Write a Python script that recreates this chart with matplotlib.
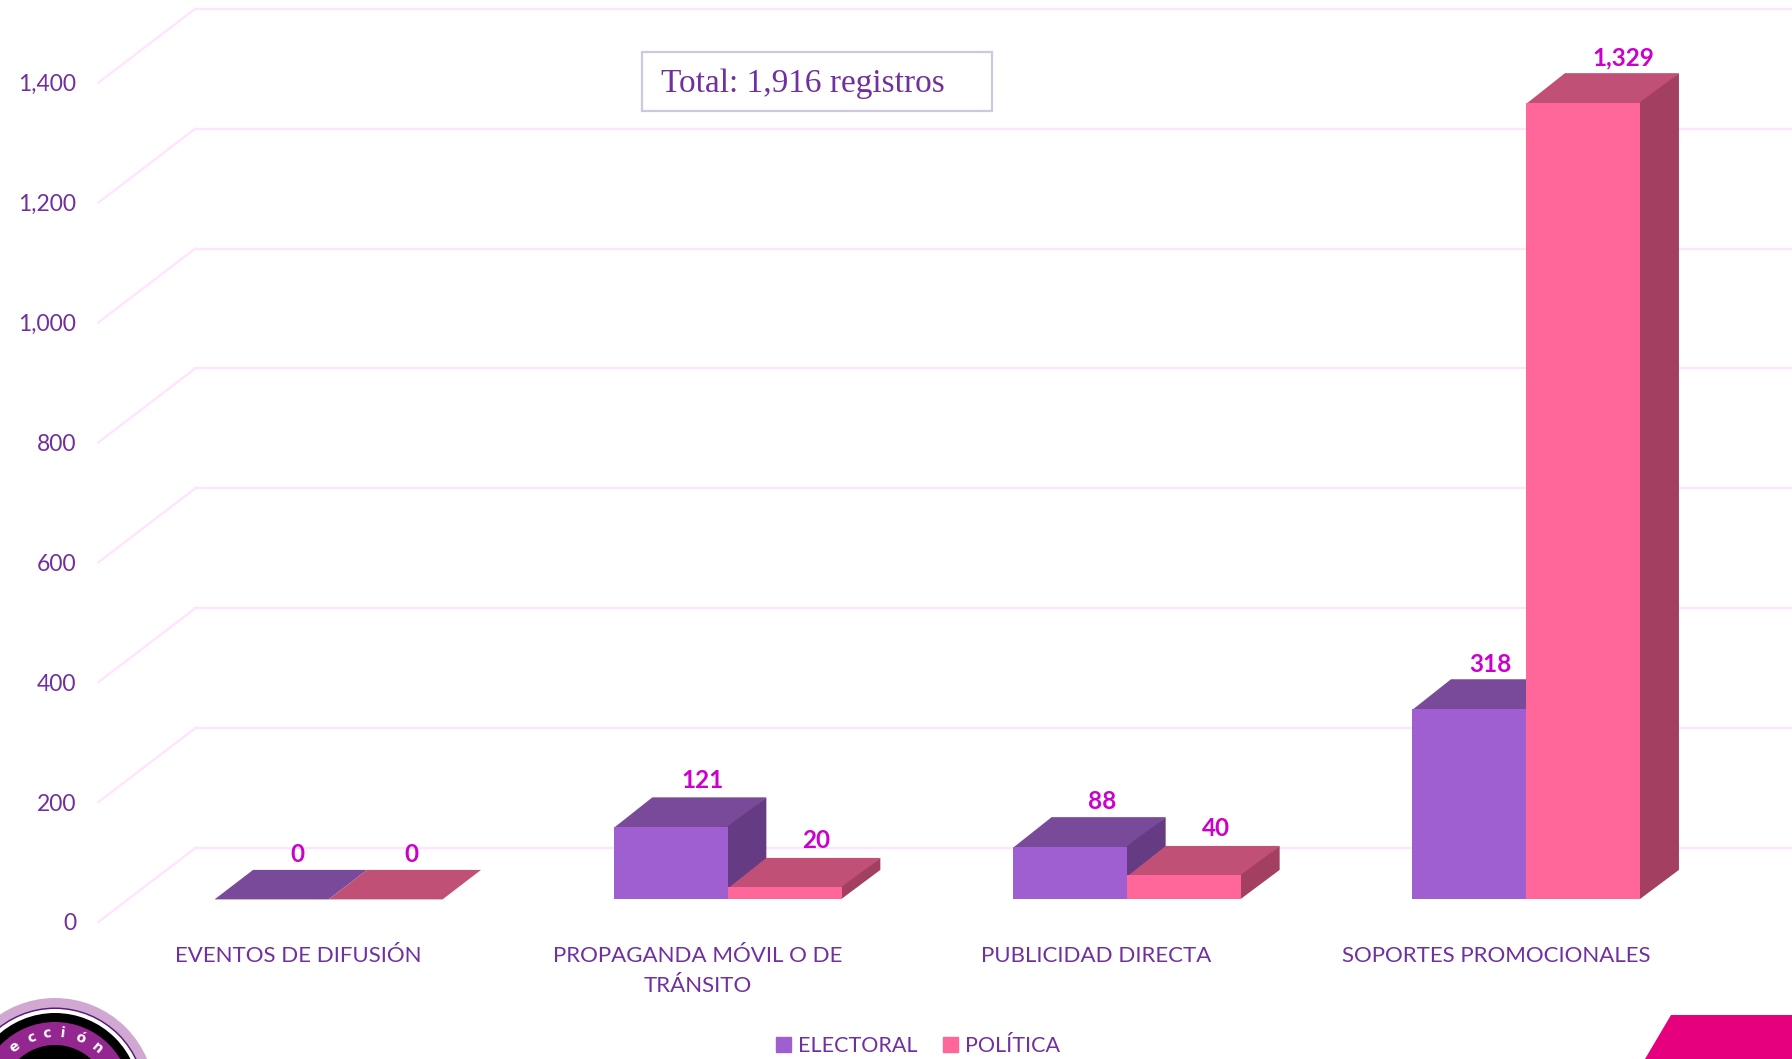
import matplotlib
matplotlib.use("Agg")
import matplotlib.pyplot as plt
from matplotlib.patches import Circle, Polygon, Rectangle
from matplotlib.transforms import Affine2D, IdentityTransform
from matplotlib.ticker import FuncFormatter
import numpy as np

categories = [
    "EVENTOS DE DIFUSIÓN",
    "PROPAGANDA MÓVIL O DE\nTRÁNSITO",
    "PUBLICIDAD DIRECTA",
    "SOPORTES PROMOCIONALES",
]
electoral = [0, 121, 88, 318]
politica = [0, 20, 40, 1329]
series_names = ["ELECTORAL", "POLÍTICA"]
y_ticks = [0, 200, 400, 600, 800, 1000, 1200, 1400]
total_label = "Total: 1,916 registros"

W, H = 1792, 1059
TEXT = "#7030A0"
LABEL = "#CC00CC"
GRID = "#FFE3FF"
# front, top, side
PURPLE = ("#9F5FD0", "#7A4A9A", "#653C84")
PINK = ("#FF6699", "#C05075", "#A33F60")

WALL = (97, 74)  # floor depth in pixels
BAR_OFF = (30.5, 22.6)
BAR_DEPTH = (38.5, 29.5)
BAR_W = 0.2855

plt.rcParams["font.family"] = ["Lato", "DejaVu Sans"]

fig = plt.figure(figsize=(W / 100, H / 100), dpi=100, facecolor="white")
ax = fig.add_axes([98.4 / W, (H - 922) / H, 1597.2 / W, 839.3 / H])
ax.set_xlim(-0.5, 3.5)
ax.set_ylim(0, 1400)
ax.patch.set_visible(False)
for s in ax.spines.values():
    s.set_visible(False)

ax.set_yticks(y_ticks)
ax.yaxis.set_major_formatter(FuncFormatter(lambda v, _: f"{int(v):,}"))
ax.tick_params(axis="y", length=0, pad=16, labelsize=16.5, labelcolor=TEXT)
for lab in ax.get_yticklabels():
    lab.set_verticalalignment("center_baseline")
ax.set_xticks(range(len(categories)))
ax.set_xticklabels(categories, linespacing=1.65)
ax.tick_params(axis="x", length=0, pad=17, labelsize=16, labelcolor=TEXT)
for lab in ax.get_xticklabels():
    lab.set_verticalalignment("top")

wall = ax.transData + Affine2D().translate(*WALL)
bar_tr = ax.transData + Affine2D().translate(*BAR_OFF)
pixel = IdentityTransform()

# floor/side lines and back wall grid
for v in y_ticks:
    x0, y0 = ax.transData.transform((-0.5, v))
    ax.plot([x0, x0 + WALL[0]], [y0, y0 + WALL[1]], color=GRID, lw=1.6,
            transform=pixel, clip_on=False, zorder=1)
    ax.plot([-0.5, 3.5], [v, v], color=GRID, lw=1.6, transform=wall,
            clip_on=False, zorder=1)


def draw_bar(x, value, colors, z, nudge=(0, 0)):
    # front through the axes, the 3d top and side from its pixel corners
    ax.bar(x, value, BAR_W, align="edge", color=colors[0], transform=bar_tr,
           clip_on=False, zorder=z + 0.5)
    x0, y0 = bar_tr.transform((x, 0))
    x1, y1 = bar_tr.transform((x + BAR_W, value))
    dx, dy = BAR_DEPTH
    # top and side run 1px under the front so no seam shows
    if value > 0:
        top_low, side_left = y1 - 1, x1 - 1
    else:
        top_low, side_left = y1, x1
    ax.add_patch(Polygon([(x0, top_low), (x1, top_low), (x1 + dx, y1 + dy), (x0 + dx, y1 + dy)],
                         closed=True, fc=colors[1], ec="none", transform=pixel,
                         clip_on=False, zorder=z))
    ax.add_patch(Polygon([(side_left, y0), (side_left, y1), (x1 + dx, y1 + dy), (x1 + dx, y0 + dy)],
                         closed=True, fc=colors[2], ec="none", transform=pixel,
                         clip_on=False, zorder=z))
    ax.text((x0 + x1) / 2 + dx - 7 + nudge[0], y1 + dy + 4 + nudge[1], f"{value:,}",
            transform=pixel, ha="center", va="bottom", fontsize=17.5, fontweight="bold",
            color=LABEL, zorder=10)


# the reference's own labels are not placed quite evenly
electoral_nudge = [(-6, 0), (0, 1), (0, 0), (-11, -1)]
politica_nudge = [(-6, 0), (0, 2), (0, 2), (8, 0)]

for i in range(len(categories)):
    draw_bar(i - BAR_W, electoral[i], PURPLE, 3, electoral_nudge[i])
    draw_bar(i, politica[i], PINK, 4, politica_nudge[i])

# total box
fig.add_artist(Rectangle((642, H - 111), 350, 59, transform=pixel, fc="white",
                         ec="#CFC6E2", lw=1.6))
fig.text(661 / W, (H - 84) / H, total_label, family="Liberation Serif", fontsize=24,
         color=TEXT, va="center", ha="left")

# legend
handles = [Rectangle((0, 0), 1, 1, color=PURPLE[0]), Rectangle((0, 0), 1, 1, color=PINK[0])]
fig.legend(handles, series_names, loc="center", bbox_to_anchor=(918 / W, (H - 1046) / H),
           ncol=2, frameon=False, fontsize=15.5, labelcolor=TEXT, handlelength=0.7,
           handleheight=0.7, handletextpad=0.3, columnspacing=1.2)

# corner shape
fig.add_artist(Polygon([(1645, 0), (1671, H - 1015), (W, H - 1015), (W, 0)], closed=True,
                       transform=pixel, fc="#E6007E", ec="none"))

# logo, cut off by the bottom edge
cx, cy = 55, H - 1098
for r, c in [(100, "#D0A8D2"), (90.5, "#5B1A7A"), (89, "white"), (85, "black"),
             (76, "#93278F"), (53, "black")]:
    fig.add_artist(Circle((cx, cy), r, transform=pixel, fc=c, ec="none"))
for letter, angle in zip("ección", [-38, -21, -7, 7, 23, 40]):
    a = np.radians(angle)
    fig.text((cx + 65 * np.sin(a)) / W, (cy + 65 * np.cos(a)) / H, letter, color="white",
             fontsize=10, fontweight="bold", rotation=-angle, ha="center", va="center",
             family="DejaVu Sans")

fig.savefig("out.png", dpi=100)
